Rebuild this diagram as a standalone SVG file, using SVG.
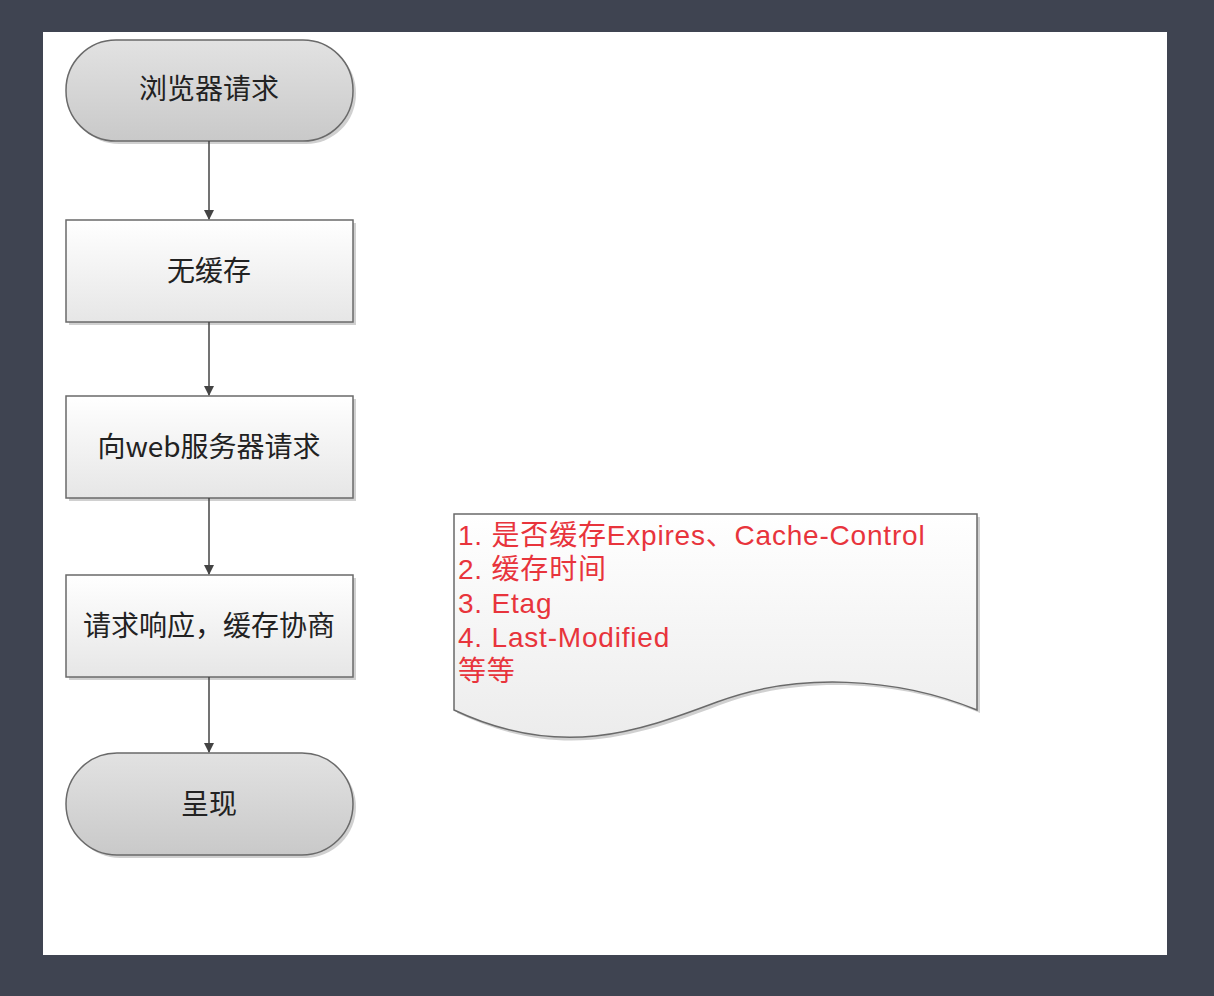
<svg xmlns="http://www.w3.org/2000/svg" width="1214" height="996" viewBox="0 0 1214 996">
<defs>
<linearGradient id="gTerm" x1="0" y1="0" x2="0" y2="1"><stop offset="0" stop-color="#e2e2e2"/><stop offset="1" stop-color="#c9c9c9"/></linearGradient>
<linearGradient id="gBox" x1="0" y1="0" x2="0" y2="1"><stop offset="0" stop-color="#ffffff"/><stop offset="1" stop-color="#e6e6e6"/></linearGradient>
<linearGradient id="gDoc" x1="0" y1="0" x2="0" y2="1"><stop offset="0" stop-color="#ffffff"/><stop offset="1" stop-color="#ececec"/></linearGradient>
<marker id="arr" markerWidth="10" markerHeight="10" refX="9" refY="5" orient="auto" markerUnits="userSpaceOnUse"><path d="M0,0 L10,5 L0,10 Z" fill="#444"/></marker>
</defs>
<style>
.shape{stroke:#6a6a6a;stroke-width:1.5}
.shadow{fill:#b0b0b0;opacity:0.6}
.lbl{font-family:"Noto Sans CJK SC","Liberation Sans",sans-serif;font-size:28px;fill:#222;text-anchor:middle}
.note{font-family:"Liberation Sans","Noto Sans CJK SC",sans-serif;font-size:28px;fill:#e8343c;letter-spacing:0.8px}
.conn{stroke:#444;stroke-width:1.5;fill:none}
</style>
<rect x="0" y="0" width="1214" height="996" fill="#3f4451"/>
<rect x="43" y="32" width="1124" height="923" fill="#ffffff"/>
<g id="n1">
<rect x="69" y="43" width="287" height="101" rx="50" class="shadow"/>
<rect x="66" y="40" width="287" height="101" rx="50" fill="url(#gTerm)" class="shape"/>
<text x="209" y="99" class="lbl">浏览器请求</text>
</g>
<g id="n2">
<rect x="69" y="223" width="287" height="102" class="shadow"/>
<rect x="66" y="220" width="287" height="102" fill="url(#gBox)" class="shape"/>
<text x="209" y="281" class="lbl">无缓存</text>
</g>
<g id="n3">
<rect x="69" y="399" width="287" height="102" class="shadow"/>
<rect x="66" y="396" width="287" height="102" fill="url(#gBox)" class="shape"/>
<text x="209" y="457" class="lbl">向web服务器请求</text>
</g>
<g id="n4">
<rect x="69" y="578" width="287" height="102" class="shadow"/>
<rect x="66" y="575" width="287" height="102" fill="url(#gBox)" class="shape"/>
<text x="209" y="636" class="lbl">请求响应，缓存协商</text>
</g>
<g id="n5">
<rect x="69" y="756" width="287" height="102" rx="51" class="shadow"/>
<rect x="66" y="753" width="287" height="102" rx="51" fill="url(#gTerm)" class="shape"/>
<text x="209" y="814" class="lbl">呈现</text>
</g>
<g id="note">
<path d="M457,517 L980,517 L980,713 C900,680 800,675 720,705 C640,735 563,763 457,713 Z" class="shadow"/>
<path d="M454,514 L977,514 L977,710 C897,677 797,672 717,702 C637,732 560,760 454,710 Z" fill="url(#gDoc)" class="shape"/>
<text class="note" x="458" y="545">1. 是否缓存Expires、Cache-Control</text>
<text class="note" x="458" y="579">2. 缓存时间</text>
<text class="note" x="458" y="613">3. Etag</text>
<text class="note" x="458" y="647">4. Last-Modified</text>
<text class="note" x="458" y="681">等等</text>
</g>
<g id="connectors">
<line x1="209" y1="141" x2="209" y2="219" class="conn" marker-end="url(#arr)"/>
<line x1="209" y1="322" x2="209" y2="395" class="conn" marker-end="url(#arr)"/>
<line x1="209" y1="498" x2="209" y2="574" class="conn" marker-end="url(#arr)"/>
<line x1="209" y1="677" x2="209" y2="752" class="conn" marker-end="url(#arr)"/>
</g>
</svg>
